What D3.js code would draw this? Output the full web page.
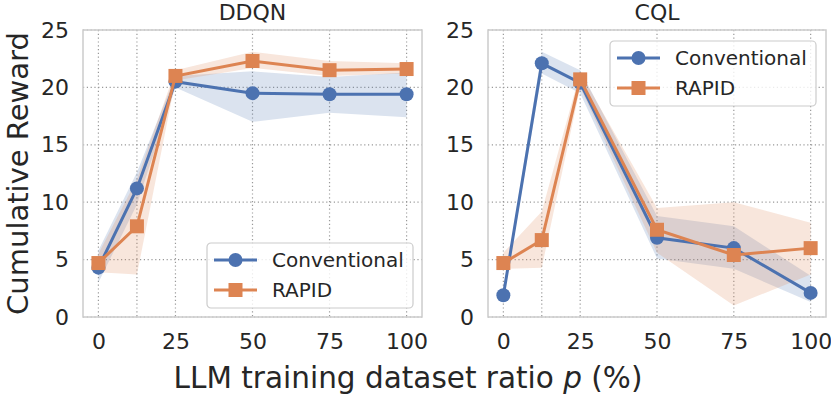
<!DOCTYPE html>
<html>
<head>
<meta charset="utf-8">
<script src="https://cdn.jsdelivr.net/npm/d3@7"></script>
<style>
  body { margin: 0; background: #fff; }
  text { font-family: "DejaVu Sans", sans-serif; fill: #262626; }
</style>
</head>
<body>
<script>
// data
const ratios = [0, 12.5, 25, 50, 75, 100];
const xTickValues = [0, 25, 50, 75, 100];
const yTickValues = [0, 5, 10, 15, 20, 25];
const seriesNames = ["Conventional", "RAPID"];

const ddqnConv = [4.3, 11.2, 20.5, 19.5, 19.4, 19.4];
const ddqnConvLo = [3.0, 9.8, 20.0, 17.0, 17.8, 17.4];
const ddqnConvHi = [5.8, 12.6, 21.0, 21.4, 20.9, 21.3];
const ddqnRapid = [4.7, 7.9, 21.0, 22.3, 21.5, 21.6];
const ddqnRapidLo = [3.9, 3.7, 20.6, 21.7, 21.0, 21.2];
const ddqnRapidHi = [5.5, 12.0, 21.5, 23.1, 22.3, 22.1];

const cqlConv = [1.9, 22.1, 20.4, 6.9, 6.0, 2.1];
const cqlConvLo = [1.5, 21.2, 19.5, 5.1, 4.2, 1.3];
const cqlConvHi = [2.3, 23.1, 21.5, 8.8, 7.9, 3.6];
const cqlRapid = [4.7, 6.7, 20.7, 7.6, 5.4, 6.0];
const cqlRapidLo = [4.2, 4.3, 20.0, 5.6, 1.0, 3.7];
const cqlRapidHi = [5.6, 9.2, 21.3, 9.5, 10.0, 8.2];

const panels = [
  {title: "DDQN", left: 83, right: 422, legend: {x: 207, y: 243},
   series: [[ddqnConv, ddqnConvLo, ddqnConvHi], [ddqnRapid, ddqnRapidLo, ddqnRapidHi]]},
  {title: "CQL", left: 488, right: 826, legend: {x: 610, y: 41},
   series: [[cqlConv, cqlConvLo, cqlConvHi], [cqlRapid, cqlRapidLo, cqlRapidHi]]}
];

const colors = ["#4C72B0", "#DD8452"];
const W = 831, H = 397;
const plotTop = 30, plotBottom = 317;

const svg = d3.select("body").append("svg")
  .attr("width", W).attr("height", H);

panels.forEach(function(p) {
  const x = d3.scaleLinear().domain([-5, 105]).range([p.left, p.right]);
  const y = d3.scaleLinear().domain([0, 25]).range([plotBottom, plotTop]);
  const g = svg.append("g");

  // grid
  g.selectAll(".vg").data(ratios).enter().append("line")
    .attr("x1", d => x(d)).attr("x2", d => x(d))
    .attr("y1", plotTop).attr("y2", plotBottom)
    .attr("stroke", "#999").attr("stroke-width", 1.2)
    .attr("stroke-dasharray", "1.2,2.6");
  g.selectAll(".hg").data(yTickValues).enter().append("line")
    .attr("x1", p.left).attr("x2", p.right)
    .attr("y1", d => y(d)).attr("y2", d => y(d))
    .attr("stroke", "#999").attr("stroke-width", 1.2)
    .attr("stroke-dasharray", "1.2,2.6");

  // bands
  p.series.forEach(function(s, i) {
    const area = d3.area()
      .x((d, j) => x(ratios[j]))
      .y0((d, j) => y(s[1][j]))
      .y1((d, j) => y(s[2][j]));
    g.append("path").datum(s[0])
      .attr("d", area)
      .attr("fill", colors[i]).attr("fill-opacity", 0.2);
  });

  // lines and markers
  p.series.forEach(function(s, i) {
    const line = d3.line().x((d, j) => x(ratios[j])).y(d => y(d));
    g.append("path").datum(s[0])
      .attr("d", line)
      .attr("fill", "none").attr("stroke", colors[i]).attr("stroke-width", 3);
    if (i === 0) {
      g.selectAll(".c").data(s[0]).enter().append("circle")
        .attr("cx", (d, j) => x(ratios[j])).attr("cy", d => y(d))
        .attr("r", 7).attr("fill", colors[i]);
    } else {
      g.selectAll(".s").data(s[0]).enter().append("rect")
        .attr("x", (d, j) => x(ratios[j]) - 7).attr("y", d => y(d) - 7)
        .attr("width", 14).attr("height", 14).attr("fill", colors[i]);
    }
  });

  // frame
  g.append("rect")
    .attr("x", p.left).attr("y", plotTop)
    .attr("width", p.right - p.left).attr("height", plotBottom - plotTop)
    .attr("fill", "none").attr("stroke", "#cccccc").attr("stroke-width", 1.5);

  // axes
  const xAxis = d3.axisBottom(x).tickValues(xTickValues).tickSize(0).tickPadding(16);
  g.append("g").attr("transform", "translate(0," + plotBottom + ")").call(xAxis)
    .call(a => a.select(".domain").remove())
    .selectAll("text").style("font-size", "22px").attr("fill", "#262626");
  const yAxis = d3.axisLeft(y).tickValues(yTickValues).tickSize(0).tickPadding(14);
  g.append("g").attr("transform", "translate(" + p.left + ",0)").call(yAxis)
    .call(a => a.select(".domain").remove())
    .selectAll("text").style("font-size", "22px").attr("fill", "#262626");

  // title
  g.append("text")
    .attr("x", (p.left + p.right) / 2).attr("y", 20)
    .attr("text-anchor", "middle").style("font-size", "22px")
    .text(p.title);

  // legend
  const lg = g.append("g").attr("transform", "translate(" + p.legend.x + "," + p.legend.y + ")");
  lg.append("rect")
    .attr("width", 206).attr("height", 65).attr("rx", 4)
    .attr("fill", "white").attr("fill-opacity", 0.8)
    .attr("stroke", "#cccccc").attr("stroke-width", 1.2);
  seriesNames.forEach(function(name, i) {
    const cy = 17 + i * 30;
    lg.append("line").attr("x1", 7).attr("x2", 50).attr("y1", cy).attr("y2", cy)
      .attr("stroke", colors[i]).attr("stroke-width", 3);
    if (i === 0) {
      lg.append("circle").attr("cx", 28.5).attr("cy", cy).attr("r", 7).attr("fill", colors[i]);
    } else {
      lg.append("rect").attr("x", 21.5).attr("y", cy - 7).attr("width", 14).attr("height", 14)
        .attr("fill", colors[i]);
    }
    lg.append("text").attr("x", 65).attr("y", cy).attr("dy", "0.35em")
      .style("font-size", "20px").text(name);
  });
});

// axis labels
svg.append("text")
  .attr("transform", "translate(28," + ((plotTop + plotBottom) / 2) + ") rotate(-90)")
  .attr("text-anchor", "middle").style("font-size", "29px")
  .text("Cumulative Reward");

const xl = svg.append("text")
  .attr("x", 408).attr("y", 388)
  .attr("text-anchor", "middle").style("font-size", "29.5px");
xl.append("tspan").text("LLM training dataset ratio ");
xl.append("tspan").style("font-style", "italic").text("p");
xl.append("tspan").text(" (%)");
</script>
</body>
</html>
